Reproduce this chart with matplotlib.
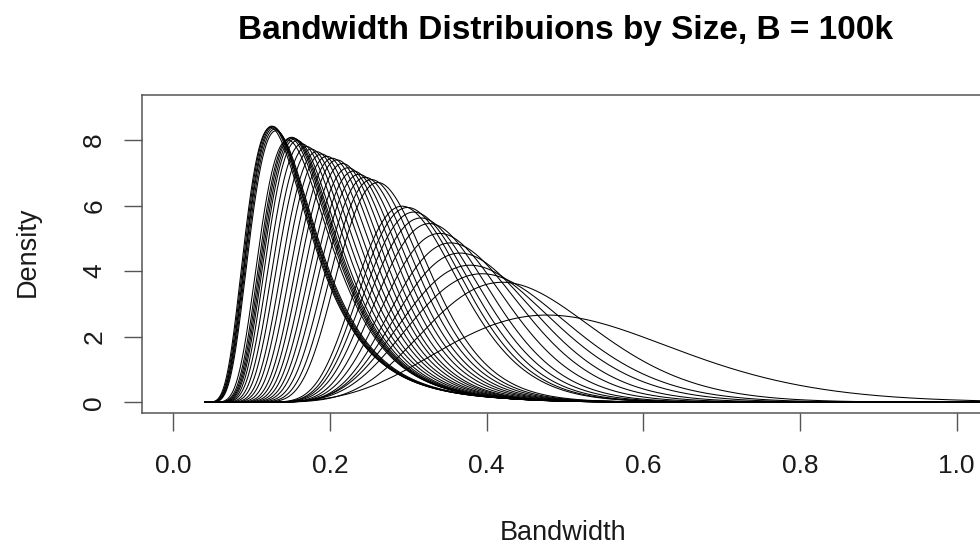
import numpy as np
import matplotlib.pyplot as plt

plt.rcParams['font.family'] = ['Liberation Sans', 'DejaVu Sans']

# ---------------------------------------------------------
# Density curves, one per sample size:
# location of the peak, height of the peak, and a skew
# exponent (-ve = steep left edge / long right tail)
# ---------------------------------------------------------

modes = [
    0.124, 0.1255, 0.127, 0.128, 0.1295, 0.131,
    0.146, 0.149, 0.151, 0.153, 0.155, 0.158,
    0.164, 0.170, 0.176, 0.183, 0.189, 0.196, 0.203, 0.209,
    0.216, 0.223, 0.230, 0.237, 0.245, 0.253, 0.261,
    0.292, 0.299, 0.307, 0.316, 0.327, 0.340, 0.354, 0.366,
    0.379, 0.394, 0.420, 0.477,
]

peaks = [
    8.38, 8.42, 8.41, 8.37, 8.33, 8.28,
    8.00, 8.06, 8.08, 8.06, 8.03, 7.98,
    7.88, 7.80, 7.72, 7.64, 7.57, 7.50, 7.44, 7.39,
    7.28, 7.15, 7.05, 6.95, 6.86, 6.79, 6.70,
    5.98, 5.94, 5.80, 5.62, 5.45, 5.15, 4.86, 4.55,
    4.18, 3.92, 3.66, 2.66,
]

skews = [
    -1.5, -1.5, -1.5, -1.5, -1.5, -1.5,
    -1.3, -1.3, -1.3, -1.3, -1.3, -1.3,
    -1.1, -1.05, -1.0, -0.95, -0.9, -0.85, -0.8, -0.75,
    -0.7, -0.65, -0.6, -0.55, -0.5, -0.45, -0.4,
    -0.2, -0.1, 0.1, 0.2, 0.3, 0.4, 0.5, 0.6,
    0.7, 0.8, 0.9, 1.0,
]

x = np.linspace(0.04, 1.12, 2000)


def curve(m, h, p):
    s = x / m
    phi = ((s**p - 1.0) - p * np.log(s)) / p**2
    # pick the width so that the curve integrates to one
    lo, hi = 0.5, 500.0
    for _ in range(60):
        A = np.sqrt(lo * hi)
        area = np.trapezoid(h * np.exp(-A * phi), x)
        if area > 1.0:
            lo = A
        else:
            hi = A
    return h * np.exp(-A * phi)


W, H = 980, 546
fig = plt.figure(figsize=(W / 100, H / 100), dpi=100)
ax = fig.add_axes([142 / W, (H - 412.7) / H, (988 - 142) / W, (412.7 - 95.3) / H])

for m, h, p in zip(modes, peaks, skews):
    ax.plot(x, curve(m, h, p), color="black", linewidth=0.75)

ax.set_xlim(-0.04, 1.04)
ax.set_ylim(-0.317, 9.36)

ax.set_xticks([0.0, 0.2, 0.4, 0.6, 0.8, 1.0])
ax.set_xticklabels(["0.0", "0.2", "0.4", "0.6", "0.8", "1.0"])
ax.set_yticks([0, 2, 4, 6, 8])
ax.set_yticklabels(["0", "2", "4", "6", "8"], rotation=90, va="center")

for sp in ax.spines.values():
    sp.set_color("#555555")
    sp.set_linewidth(1.1)

ax.tick_params(axis="both", direction="out", length=12.7, width=1.0,
               color="#555555", labelsize=19, labelcolor="#1a1a1a")
ax.tick_params(axis="x", pad=17)
ax.tick_params(axis="y", pad=13)

fig.text(565 / W, 1 - 31 / H, "Bandwidth Distribuions by Size, B = 100k",
         ha="center", va="center", fontsize=24, fontweight="bold")
fig.text(563 / W, 1 - 533 / H, "Bandwidth", ha="center", va="center",
         fontsize=19.5, color="#1a1a1a")
fig.text(28 / W, 1 - 252 / H, "Density", ha="center", va="center",
         rotation=90, fontsize=19.5, color="#1a1a1a")

fig.savefig("out.png", dpi=100)
